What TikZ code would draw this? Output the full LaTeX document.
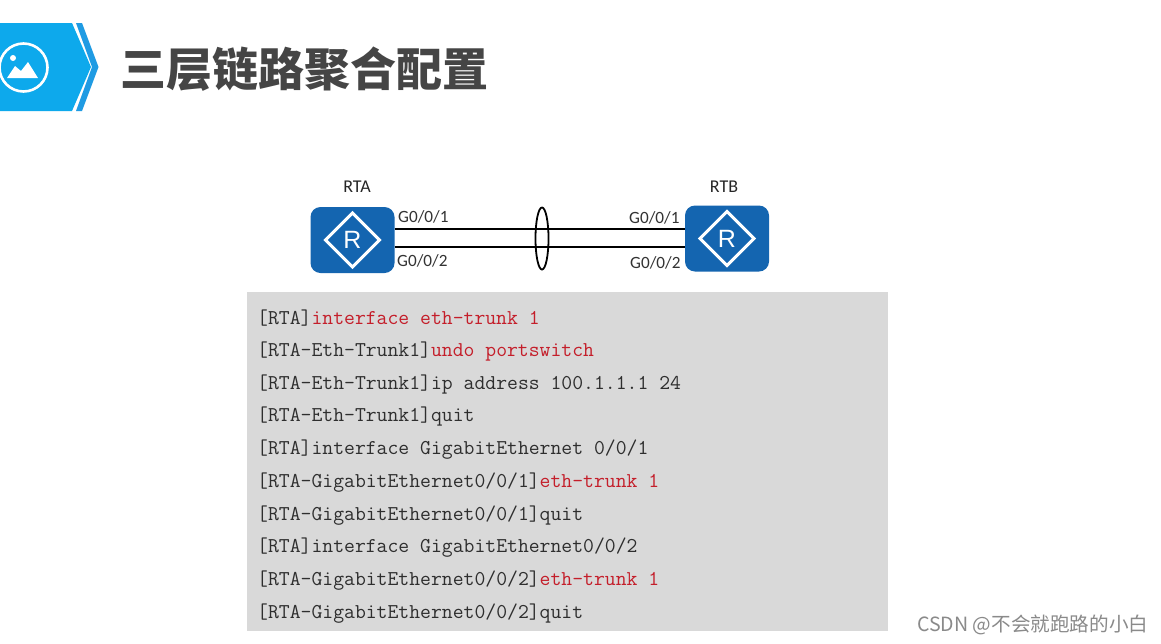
\documentclass[tikz,border=0pt]{standalone}
\usepackage{fontspec}
\setmainfont{Carlito}
\newfontfamily\cjk{Noto Sans CJK SC}
\newfontfamily\rfont{Liberation Sans}
\usetikzlibrary{calc}
\definecolor{iconblue}{HTML}{0DA9EC}
\definecolor{chevblue}{HTML}{1F9BE3}
\definecolor{routerblue}{HTML}{1465B0}
\definecolor{titlegray}{HTML}{454545}
\definecolor{panelgray}{HTML}{D9D9D9}
\definecolor{codegray}{HTML}{2E2E2E}
\definecolor{codered}{HTML}{C41E2A}
\definecolor{markgray}{HTML}{8A8A8A}
\tikzset{
  router/.style={fill=routerblue,rounded corners=10pt,minimum width=84pt,minimum height=66pt,inner sep=0pt},
  rdiamond/.style={draw=white,line width=3pt,line join=miter},
  rlabel/.style={text=white,font=\rfont\fontsize{25}{25}\selectfont,inner sep=0pt},
  devlabel/.style={text=black!85,font=\fontsize{18}{18}\selectfont,inner sep=0pt},
  portlabel/.style={text=black!80,font=\fontsize{17.2}{17.2}\selectfont,inner sep=0pt},
  trunk/.style={draw=black,line width=2.7pt},
  code/.style={anchor=west,inner sep=0pt,text=codegray,font=\ttfamily\fontsize{21.1}{21.1}\selectfont},
}
\newcommand{\hl}[1]{\textcolor{codered}{#1}}
\newcommand{\routersign}[1]{%
  \draw[rdiamond] ($(#1.center)+(-27,0)$) -- ($(#1.center)+(0,-27)$) -- ($(#1.center)+(27,0)$) -- ($(#1.center)+(0,27)$) -- cycle;
}
\begin{document}
\begin{tikzpicture}[x=1pt,y=-1pt]
\useasboundingbox (0,0) rectangle (1161,643);
\fill[white] (0,0) rectangle (1161,643);
% header badge
\fill[iconblue] (0,23) -- (72,23) -- (91,67) -- (72,111) -- (0,111) -- cycle;
\fill[chevblue] (76,23) -- (82,23) -- (98.5,67) -- (82,111) -- (76,111) -- (92,67) -- cycle;
\draw[white,line width=2.6pt] (23.5,67.5) circle (24);
\fill[white] (13,58) circle (3);
\fill[white] (7,78) -- (15,66) -- (21,71) -- (28,62) -- (38,78) -- cycle;
\node[anchor=west,inner sep=0pt,text=titlegray,font=\cjk\bfseries\fontsize{46}{46}\selectfont] (title) at (120.5,69) {三层链路聚合配置};
% routers
\node[router] (rta) at (352.5,240) {};
\node[router] (rtb) at (727,238.5) {};
\routersign{rta}
\routersign{rtb}
\node[rlabel] (ra) at (rta.center) {R};
\node[rlabel] (rb) at (rtb.center) {R};
\node[devlabel] (lrta) at (357,187) {RTA};
\node[devlabel] (lrtb) at (724,187) {RTB};
% links
\draw[trunk] ([yshift=11pt]rta.east) -- ([yshift=9.5pt]rtb.west);
\draw[trunk] ([yshift=-7pt]rta.east) -- ([yshift=-8.5pt]rtb.west);
\node[draw=black,line width=1.8pt,shape=circle,inner sep=0pt,minimum size=1pt,transform shape,xscale=0.21,yscale=1,minimum width=62pt,fill=none] (bundle) at (542,238.5) {};
\node[portlabel,anchor=west] (pa1) at (398,217) {G0/0/1};
\node[portlabel,anchor=west] (pa2) at (397,261) {G0/0/2};
\node[portlabel,anchor=west] (pb1) at (629,218) {G0/0/1};
\node[portlabel,anchor=west] (pb2) at (630,263) {G0/0/2};
% code panel
\node[fill=panelgray,anchor=north west,minimum width=641pt,minimum height=339pt,inner sep=0pt] (panel) at (247,292) {};
\node[code] (c1) at (257,318.5) {[RTA]\hl{interface eth-trunk 1}};
\node[code] (c2) at (257,351.5) {[RTA-Eth-Trunk1]\hl{undo portswitch}};
\node[code] (c3) at (257,384.5) {[RTA-Eth-Trunk1]ip address 100.1.1.1 24};
\node[code] (c4) at (257,416.5) {[RTA-Eth-Trunk1]quit};
\node[code] (c5) at (257,449.5) {[RTA]interface GigabitEthernet 0/0/1};
\node[code] (c6) at (257,482.5) {[RTA-GigabitEthernet0/0/1]\hl{eth-trunk 1}};
\node[code] (c7) at (257,515.5) {[RTA-GigabitEthernet0/0/1]quit};
\node[code] (c8) at (257,547.5) {[RTA]interface GigabitEthernet0/0/2};
\node[code] (c9) at (257,580.5) {[RTA-GigabitEthernet0/0/2]\hl{eth-trunk 1}};
\node[code] (c10) at (257,613.5) {[RTA-GigabitEthernet0/0/2]quit};
% watermark
\node[anchor=west,inner sep=0pt,text=markgray,font=\cjk\fontsize{19.6}{19.6}\selectfont] (mark) at (917,625) {CSDN @不会就跑路的小白};
\end{tikzpicture}
\end{document}
